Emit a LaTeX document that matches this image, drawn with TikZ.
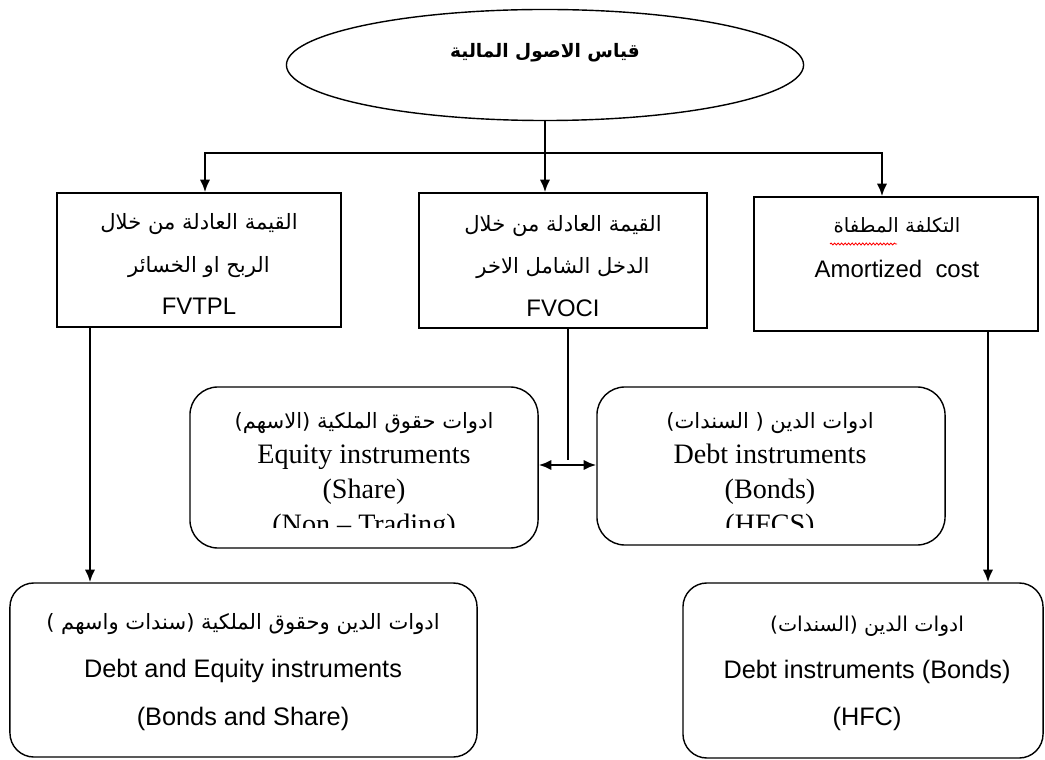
\documentclass[tikz,border=0pt]{standalone}
\usepackage{fontspec}
\setmainfont{Liberation Serif}
\newfontfamily\arialfont{Liberation Sans}
\newfontfamily\arabicfont[Script=Arabic]{DejaVu Sans}
\TeXXeTstate=1
\usetikzlibrary{arrows.meta,shapes.geometric,decorations.pathmorphing}

\newcommand{\artxt}[2][15]{{\arabicfont\fontsize{#1}{30}\selectfont\beginR #2\endR}}

\tikzset{
  sqbox/.style={draw, line width=1pt, inner sep=0pt},
  rbox/.style={draw, line width=1pt, rounded corners=0.7cm, inner sep=0pt},
  line/.style={line width=2pt},
  tip/.tip={Latex[length=9pt,width=7.5pt]},
  arrow/.style={line width=2pt, -tip},
  sanstxt/.style={font=\arialfont\fontsize{17}{30}\selectfont, align=center},
  seriftxt/.style={font=\fontsize{20}{25}\selectfont, align=center},
}

\begin{document}
\begin{tikzpicture}[x=0.025cm, y=-0.025cm]
  \useasboundingbox (0,0) rectangle (1045,760);

  % top
  \node[ellipse, draw, line width=1pt, minimum width=12.925cm, minimum height=2.775cm, inner sep=0pt] (title) at (545,65) {};
  \node[font=\bfseries] (titletxt) at (545,53) {\artxt[13.2]{قياس الاصول المالية}};

  % second row
  \node[sqbox, minimum width=7.1cm, minimum height=3.35cm] (fvtpl) at (199,260) {};
  \node[sqbox, minimum width=7.2cm, minimum height=3.375cm] (fvoci) at (563,260.5) {};
  \node[sqbox, minimum width=7.1cm, minimum height=3.35cm] (amort) at (896,264) {};

  \node[sanstxt] (fvtpltxt) at (199,264) {\artxt{القيمة العادلة من خلال}\\ \artxt{الربح او الخسائر}\\ FVTPL};
  \node[sanstxt] (fvocitxt) at (563,266) {\artxt{القيمة العادلة من خلال}\\ \artxt{الدخل الشامل الاخر}\\ FVOCI};
  \node[sanstxt, font=\arialfont\fontsize{17}{32}\selectfont] (amorttxt) at (897,248) {\artxt[14]{التكلفة المطفاة}\\ Amortized~~cost};
  \draw[red, line width=0.6pt, decorate, decoration={snake, segment length=2.5pt, amplitude=0.7pt}] (830,244) -- (897,244);

  % middle row
  \node[rbox, minimum width=8.7cm, minimum height=4.025cm] (equity) at (364,467.5) {};
  \node[rbox, minimum width=8.7cm, minimum height=3.95cm] (debt) at (771,466) {};
  \begin{scope}
    \clip (0,0) rectangle (1045,527);
    \node[seriftxt] (equitytxt) at (364,476) {\artxt{ادوات حقوق الملكية (الاسهم)}\\ Equity instruments\\ (Share)\\ (Non -- Trading)};
    \node[seriftxt] (debttxt) at (770,476) {\artxt{ادوات الدين ( السندات)}\\ Debt instruments\\ (Bonds)\\ (HFCS)};
  \end{scope}

  % bottom row
  \node[rbox, rounded corners=0.6cm, minimum width=11.675cm, minimum height=4.35cm] (both) at (243.5,670) {};
  \node[rbox, rounded corners=0.6cm, minimum width=9cm, minimum height=4.375cm] (hfc) at (863,670.5) {};
  \node[sanstxt, font=\arialfont\fontsize{18}{34}\selectfont] (bothtxt) at (243,672) {\artxt{ادوات الدين وحقوق الملكية (سندات واسهم )}\\ Debt and Equity instruments\\ (Bonds and Share)};
  \node[sanstxt, font=\arialfont\fontsize{18}{33.5}\selectfont] (hfctxt) at (867,673) {\artxt[14.5]{ادوات الدين (السندات)}\\ Debt instruments (Bonds)\\ (HFC)};

  % connectors
  \coordinate (hl) at (205,153);
  \coordinate (hr) at (882,153);
  \draw[line, tip-tip] (hl |- fvtpl.north) -- (hl) -- (hr) -- (hr |- amort.north);
  \draw[arrow] (title.south) -- (title.south |- fvoci.north);

  \coordinate (ldown) at (90,0);
  \coordinate (rdown) at (988,0);
  \draw[arrow] (ldown |- fvtpl.south) -- (ldown |- both.north);
  \draw[arrow] (rdown |- amort.south) -- (rdown |- hfc.north);

  \coordinate (mid) at (568,460);
  \coordinate (midarrow) at (568,465);
  \draw[line] (mid |- fvoci.south) -- (mid);
  \draw[line, tip-tip] (equity.east |- midarrow) -- (debt.west |- midarrow);
\end{tikzpicture}
\end{document}
